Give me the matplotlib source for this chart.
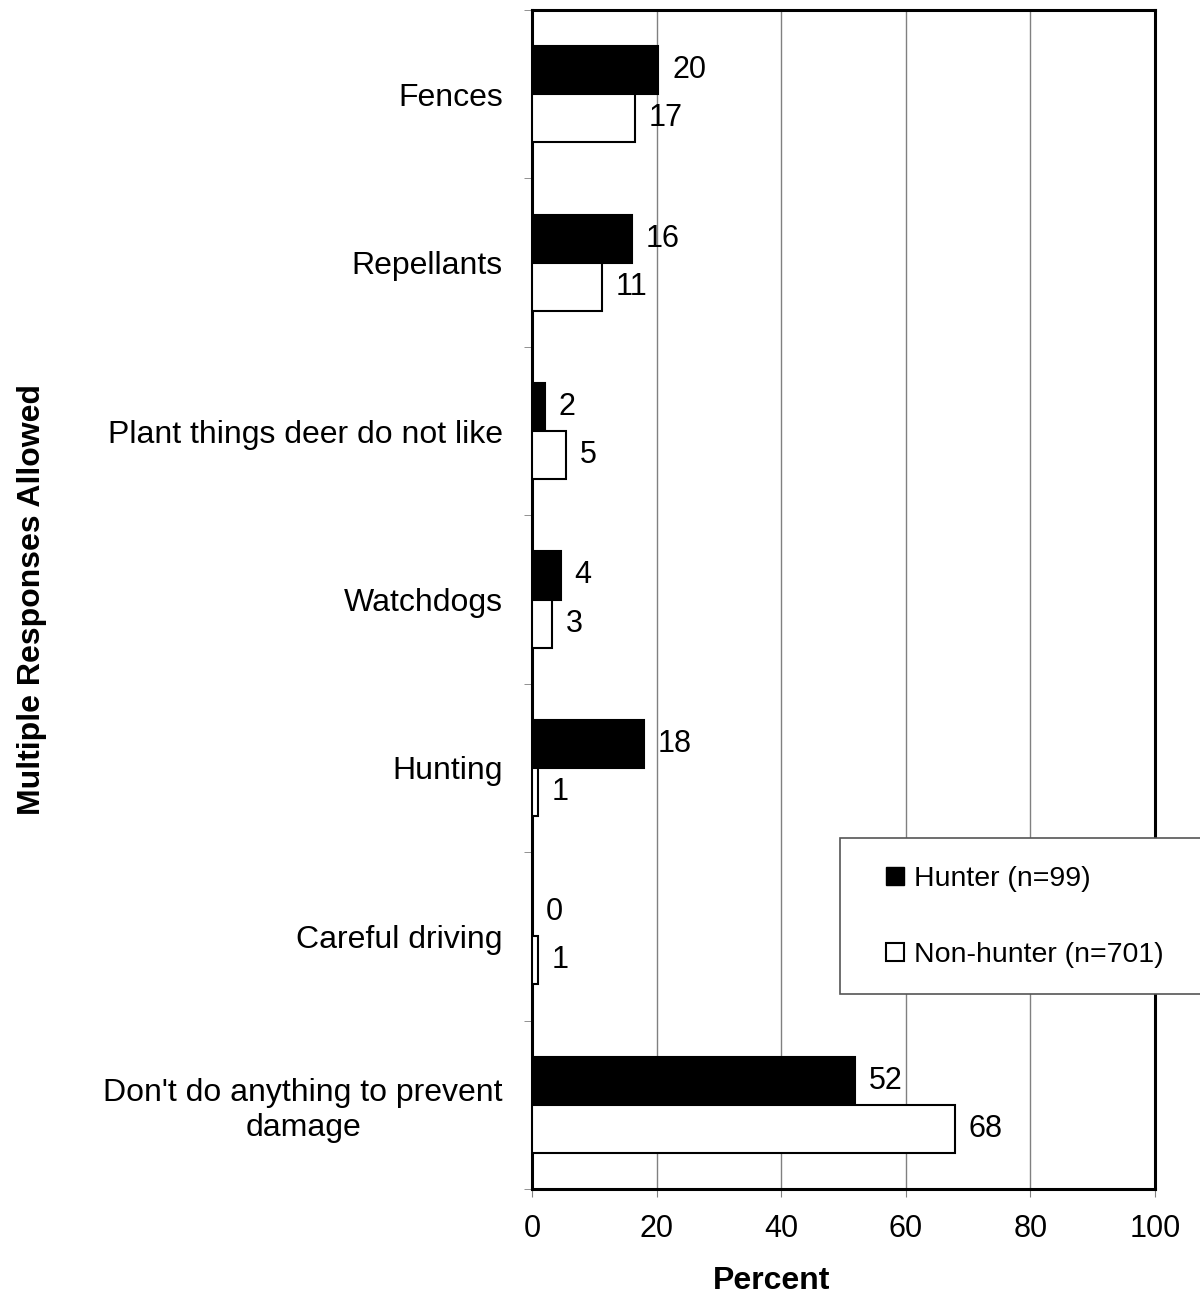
import matplotlib
matplotlib.use('Agg')
import matplotlib.pyplot as plt
import numpy as np
from matplotlib.patches import Rectangle, Patch

plt.rcParams['font.family'] = ['Liberation Sans', 'DejaVu Sans']

categories = ['Fences', 'Repellants', 'Plant things deer do not like', 'Watchdogs',
              'Hunting', 'Careful driving', "Don't do anything to prevent\ndamage"]
hunter = [20.3, 16.0, 2.1, 4.6, 17.9, 0.0, 51.9]
non_hunter = [16.5, 11.2, 5.4, 3.2, 1.0, 0.9, 67.9]
hunter_labels = ['20', '16', '2', '4', '18', '0', '52']
non_hunter_labels = ['17', '11', '5', '3', '1', '1', '68']
legend_labels = ['Hunter (n=99)', 'Non-hunter (n=701)']

fig = plt.figure(figsize=(12, 12.96), dpi=100)
ax = fig.add_axes([532 / 1200, 1 - 1189 / 1296, 623 / 1200, 1179 / 1296])

y = np.arange(len(categories))
h = 0.285
ax.barh(y - h / 2, hunter, height=h, color='black', edgecolor='black', lw=1.5, zorder=3)
ax.barh(y + h / 2, non_hunter, height=h, color='white', edgecolor='black', lw=1.5, zorder=3)

for i in range(len(categories)):
    ax.annotate(hunter_labels[i], (hunter[i], y[i] - h / 2), xytext=(10, 0),
                textcoords='offset points', va='center', ha='left', fontsize=22)
    ax.annotate(non_hunter_labels[i], (non_hunter[i], y[i] + h / 2), xytext=(10, 0),
                textcoords='offset points', va='center', ha='left', fontsize=22)

ax.set_xlim(0, 100)
ax.set_ylim(len(categories) - 0.5, -0.5)
ax.set_xticks(np.arange(0, 101, 20))
ax.tick_params(axis='x', labelsize=22, length=6, color='gray', pad=12)
ax.set_yticks(y)
ax.set_yticklabels(categories, fontsize=23, multialignment='center')
ax.tick_params(axis='y', which='major', length=0, pad=21)
ax.set_yticks(np.arange(-0.5, len(categories), 1), minor=True)
ax.tick_params(axis='y', which='minor', length=6, color='gray')

ax.grid(axis='x', color='gray', lw=1, zorder=0)
for s in ax.spines.values():
    s.set_linewidth(2.2)

ax.set_xlabel('Percent', fontsize=23, fontweight='bold')
ax.xaxis.set_label_coords(0.384, -0.065)
ax.set_ylabel('Multiple Responses Allowed', fontsize=23, fontweight='bold', va='center')
ax.yaxis.set_label_coords(-0.803, 0.5)

# legend box
fig.patches.append(Rectangle((840 / 1200, 1 - 994 / 1296), 380 / 1200, 156 / 1296,
                             transform=fig.transFigure, facecolor='white',
                             edgecolor='#555555', lw=1.2, zorder=5))
handles = [Patch(facecolor='black', edgecolor='black'),
           Patch(facecolor='white', edgecolor='black', lw=1.5)]
fig.legend(handles, legend_labels, loc='upper left',
           bbox_to_anchor=(886 / 1200, 1 - 866 / 1296), frameon=False, fontsize=20.5,
           handlelength=0.63, handleheight=0.63, handletextpad=0.35, labelspacing=1.76,
           borderpad=0, borderaxespad=0)

fig.savefig('out.png', dpi=100)
